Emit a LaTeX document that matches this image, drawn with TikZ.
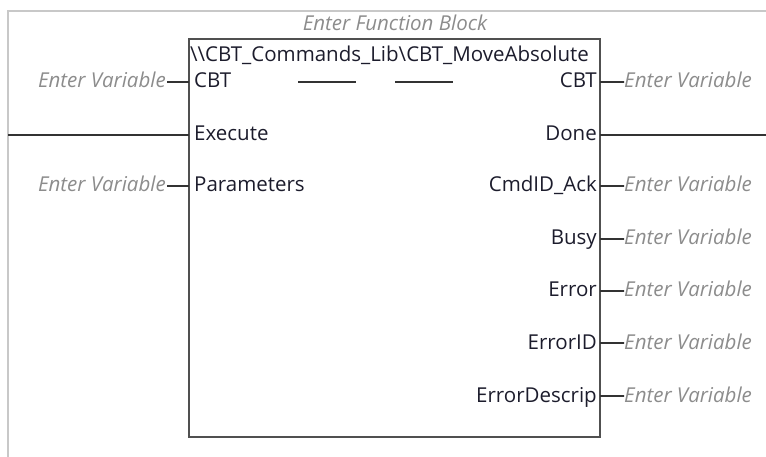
\documentclass[tikz,border=0pt]{standalone}
\usepackage{fontspec}
\setmainfont{Open Sans}
\definecolor{vargray}{HTML}{8C8C8C}
\definecolor{framegray}{HTML}{C8C8C8}
\definecolor{blockgray}{HTML}{505050}
\definecolor{pintext}{HTML}{1C1C2C}
\begin{document}
\begin{tikzpicture}[x=1pt,y=-1pt,
  var/.style={font=\fontsize{20.5}{24}\selectfont\itshape, text=vargray, inner sep=0pt},
  pin/.style={font=\fontsize{20.5}{24}\selectfont, text=pintext, inner sep=0pt},
  wire/.style={draw=black!80, line width=1.8pt},
  blockline/.style={draw=blockgray, line width=2.4pt}]
\useasboundingbox (0,0) rectangle (766,457);
% outer frame
\draw[framegray, line width=1.2pt] (8,457) -- (8,11) -- (766,11);
% block
\draw[blockline] (189,39) rectangle (600,437);
\node[var, anchor=base] (fbname) at (395,31) {Enter Function Block};
\node[pin, anchor=base west] (title) at (190,62) {\textbackslash\textbackslash CBT\_Commands\_Lib\textbackslash CBT\_MoveAbsolute};
% dashes
\coordinate (d1a) at (298,82); \coordinate (d1b) at (356,82);
\coordinate (d2a) at (395,82); \coordinate (d2b) at (453,82);
\draw[wire] (d1a) -- (d1b);
\draw[wire] (d2a) -- (d2b);
% block edges as coordinates
\coordinate (L82) at (189,82); \coordinate (L135) at (189,135); \coordinate (L186) at (189,186);
% inputs
\node[pin, anchor=base west] (inCBT) at (194,88) {CBT};
\node[pin, anchor=base west] (inExec) at (194,141) {Execute};
\node[pin, anchor=base west] (inPar) at (194,192) {Parameters};
\node[var, anchor=base east] (vin1) at (166,88) {Enter Variable};
\node[var, anchor=base east] (vin3) at (166,192) {Enter Variable};
\draw[wire] (vin1.east |- L82) ++(1,0) -- (L82);
\draw[wire] (vin3.east |- L186) ++(1,0) -- (L186);
\coordinate (execStart) at (8,135);
\draw[wire] (execStart) -- (L135);
% outputs
\foreach \nm/\y/\txt in {oCBT/82/CBT, oCmd/186/CmdID\_Ack, oBusy/239/Busy, oErr/291/Error, oErrID/343/ErrorID, oDesc/396/ErrorDescrip}{
  \node[pin, anchor=base east] (\nm) at (597,\y+6) {\txt};
  \coordinate (\nm R) at (600,\y);
  \node[var, anchor=base west] (\nm V) at (624,\y+6) {Enter Variable};
  \draw[wire] (\nm R) -- (\nm V.west |- \nm R) -- ++(-1,0);
}
\node[pin, anchor=base east] (oDone) at (597,141) {Done};
\coordinate (oDoneR) at (600,135);
\coordinate (doneEnd) at (766,135);
\draw[wire] (oDoneR) -- (doneEnd);
\end{tikzpicture}
\end{document}
